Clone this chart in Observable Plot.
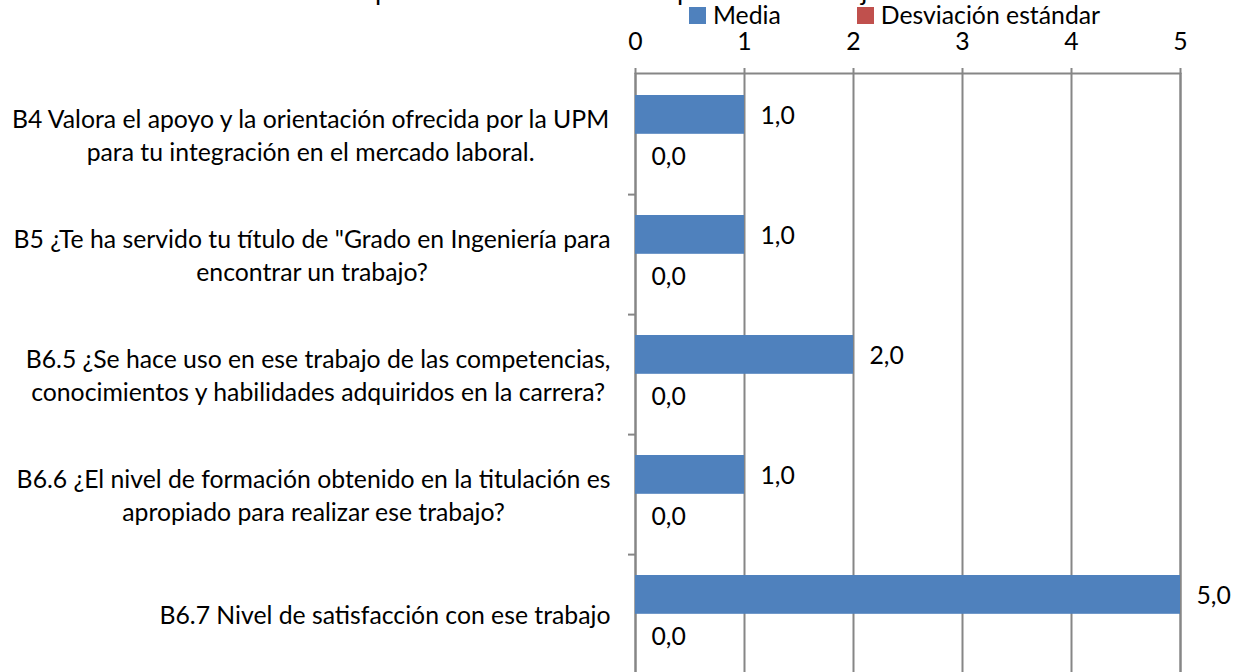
<!DOCTYPE html>
<html>
<head>
<meta charset="utf-8">
<script src="https://cdn.jsdelivr.net/npm/d3@7"></script>
<script src="https://cdn.jsdelivr.net/npm/@observablehq/plot@0.6"></script>
<style>
html, body { margin: 0; padding: 0; background: #fff; overflow: hidden; width: 1248px; height: 672px; }
#wrap { position: relative; width: 1248px; height: 672px; overflow: hidden; }
#legend { position: relative; height: 30px; font-family: Lato, sans-serif; color: #000; }
.item { position: absolute; top: 0; height: 30px; display: flex; align-items: center; white-space: nowrap; line-height: 1; }
.item span { line-height: 1; }
.sw { display: inline-block; width: 17px; height: 17px; margin-right: 7px; }
#title { position: absolute; left: 0; top: 0; display: block; }
</style>
</head>
<body>
<div id="wrap"></div>
<script>
const title = "Adaptación de los estudios al puesto de trabajo";
const categories = ["B4", "B5", "B6.5", "B6.6", "B6.7"];
const categoryLabels = [
  ["B4 Valora el apoyo y la orientación ofrecida por la UPM", "para tu integración en el mercado laboral."],
  ["B5 ¿Te ha servido tu título de \"Grado en Ingeniería para", "encontrar un trabajo?"],
  ["B6.5 ¿Se hace uso en ese trabajo de las competencias,", "conocimientos y habilidades adquiridos en la carrera?"],
  ["B6.6 ¿El nivel de formación obtenido en la titulación es", "apropiado para realizar ese trabajo?"],
  ["B6.7 Nivel de satisfacción con ese trabajo"]
];
const series = ["Media", "Desviación estándar"];
const colors = ["#4f81bd", "#c0504d"];
const media = [1.0, 1.0, 2.0, 1.0, 5.0];
const desviacion = [0.0, 0.0, 0.0, 0.0, 0.0];
const xTicks = [0, 1, 2, 3, 4, 5];

// font sizing (Lato scaled to the Calibri widths of the reference)
const ctx = document.createElement("canvas").getContext("2d");
function tw(s, size, weight = "normal") { ctx.font = `${weight} ${size}px Lato`; return ctx.measureText(s).width; }
const FS = 100 * 600 / tw(categoryLabels[0][0], 100);
const TS = 100 * 302 / tw("ptación de los estudios al ", 100);

const wrap = d3.select("#wrap");

// title (cut off at the top, as in the reference)
const tsvg = wrap.append("svg").attr("id", "title").attr("width", 1248).attr("height", 8);
tsvg.append("text")
  .attr("x", 375 - tw("Ada", TS))
  .attr("y", 0)
  .attr("font-family", "Lato")
  .attr("font-size", TS)
  .attr("fill", "#000")
  .text(title);

// legend
const legend = wrap.append("div").attr("id", "legend").style("font-size", FS + "px");
let lx = 689;
series.forEach((s, i) => {
  const it = legend.append("div").attr("class", "item").style("left", lx + "px");
  it.append("span").attr("class", "sw").style("background", colors[i]);
  it.append("span").text(s);
  lx += 17 + 7 + tw(s, FS) + 76;
});

// chart
const rows = categories.map((c, i) => ({cat: c, media: media[i], desv: desviacion[i]}));
const fmt = v => d3.format(".1f")(v).replace(".", ",");
const H = 644, MT = 43, ML = 635, MR = 68;
const plotW = 1248 - ML - MR;
const bw = (H - MT) / categories.length;
const grid = "#868686";
const LH = 33 / FS;

const labelMarks = categories.map((c, i) => {
  const lines = categoryLabels[i];
  const maxW = d3.max(lines, l => tw(l, FS));
  return Plot.text([c], {
    y: d => d,
    frameAnchor: "left",
    dx: -(25 + maxW / 2),
    dy: -1,
    text: () => lines.join("\n"),
    textAnchor: "middle",
    lineAnchor: "middle",
    lineHeight: LH,
    fill: "#000"
  });
});

const chart = Plot.plot({
  width: 1248,
  height: H,
  marginTop: MT,
  marginBottom: 0,
  marginLeft: ML,
  marginRight: MR,
  style: {fontFamily: "Lato", fontSize: FS + "px", color: "#000", background: "#fff", overflow: "visible"},
  x: {domain: [0, 5], axis: null},
  y: {domain: categories, padding: 0, axis: null},
  marks: [
    Plot.ruleX(xTicks, {stroke: grid, strokeWidth: 2}),
    Plot.frame({stroke: grid, strokeWidth: 2}),
    Plot.axisX(xTicks, {anchor: "top", tickSize: 6, tickPadding: 18, stroke: grid, strokeWidth: 2, fill: "#000", fontSize: FS, tickFormat: d => String(d)}),
    Plot.ruleY(categories, {dy: bw / 2, insetLeft: -7, insetRight: plotW, stroke: grid, strokeWidth: 2}),
    Plot.barX(rows, {y: "cat", x: "media", fill: colors[0], insetTop: 21, insetBottom: bw - 60}),
    Plot.barX(rows, {y: "cat", x: "desv", fill: colors[1], insetTop: 60, insetBottom: bw - 99}),
    Plot.text(rows, {y: "cat", x: "media", text: d => fmt(d.media), dx: 16, dy: -18, textAnchor: "start", fill: "#000"}),
    Plot.text(rows, {y: "cat", x: "desv", text: d => fmt(d.desv), dx: 16, dy: 23, textAnchor: "start", fill: "#000"}),
    ...labelMarks
  ]
});
wrap.node().appendChild(chart);
</script>
</body>
</html>
